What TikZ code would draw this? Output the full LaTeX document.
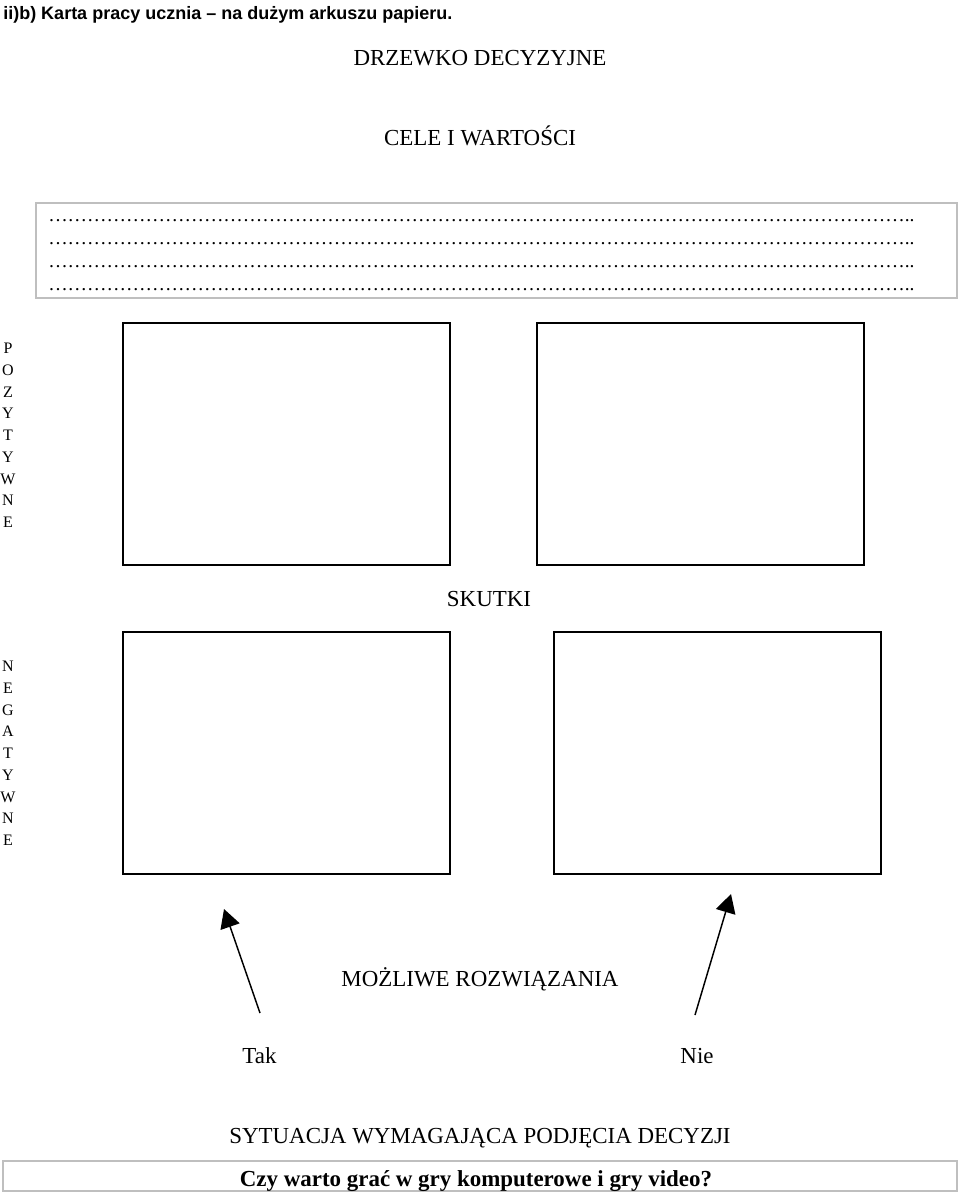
\documentclass[tikz,border=0pt]{standalone}
\usepackage{fontspec}
\setmainfont{Liberation Serif}
\newfontfamily\arialfont{Liberation Sans}
\usepackage{tikz}
\usetikzlibrary{arrows.meta}
\definecolor{framegray}{gray}{0.75}
\newcommand\dotrow{\foreach \k in {1,...,44}{…}..}

\begin{document}
\begin{tikzpicture}[x=0.75pt, y=-0.75pt,
  note/.style={inner sep=0pt, anchor=base, font=\fontsize{17.2}{20}\selectfont},
  letter/.style={inner sep=0pt, anchor=base, font=\fontsize{12}{14}\selectfont},
  dots/.style={inner sep=0pt, anchor=base west, font=\fontsize{14.6}{16}\selectfont},
  pane/.style={draw, line width=1.5pt, minimum width=245.25pt, minimum height=181.5pt, inner sep=0pt},
  grayframe/.style={draw=framegray, line width=0.9pt},
  line/.style={-{Triangle[length=14pt,width=15pt]}, line width=1.1pt}
]
\useasboundingbox (0,0) rectangle (960,1195);

\node[anchor=base west, inner sep=0pt, font=\arialfont\bfseries\fontsize{13.5}{16}\selectfont] (title) at (3,19.5) {ii)b) Karta pracy ucznia – na dużym arkuszu papieru.};
\node[note] (drzewko) at (480,66) {DRZEWKO DECYZYJNE};
\node[note] (cele) at (480,146) {CELE I WARTOŚCI};

% miejsce na wpisanie celow
\draw[grayframe] (36,203) rectangle (957,298);
\foreach \r [count=\i] in {221,244,267,290}
  \node[dots] (row\i) at (48,\r) {\dotrow};

\foreach \c [count=\i] in {P,O,Z,Y,T,Y,W,N,E}
  \node[letter] (poz\i) at (8,331.75+21.75*\i) {\c};
\foreach \c [count=\i] in {N,E,G,A,T,Y,W,N,E}
  \node[letter] (neg\i) at (8,649.75+21.75*\i) {\c};

\node[pane] (pozTak) at (286.5,444) {};
\node[pane] (pozNie) at (700,444) {};
\node[note] (skutki) at (489,606) {SKUTKI};
\node[pane] (negTak) at (286.5,753) {};
\node[pane] (negNie) at (717.5,753) {};

\coordinate (takTail) at (260,1013);
\coordinate (takTip) at (224,909);
\coordinate (nieTail) at (695,1015);
\coordinate (nieTip) at (731,894);
\draw[line] (takTail) -- (takTip);
\draw[line] (nieTail) -- (nieTip);

\node[note] (mozliwe) at (480,986) {MOŻLIWE ROZWIĄZANIA};
\node[note] (tak) at (259.5,1063) {Tak};
\node[note] (nie) at (697,1063) {Nie};
\node[note] (sytuacja) at (480,1143) {SYTUACJA WYMAGAJĄCA PODJĘCIA DECYZJI};

\draw[grayframe] (3,1161) rectangle (957,1191);
\node[note, font=\bfseries\fontsize{17.2}{20}\selectfont] (pytanie) at (476,1186) {Czy warto grać w gry komputerowe i gry video?};
\end{tikzpicture}
\end{document}
